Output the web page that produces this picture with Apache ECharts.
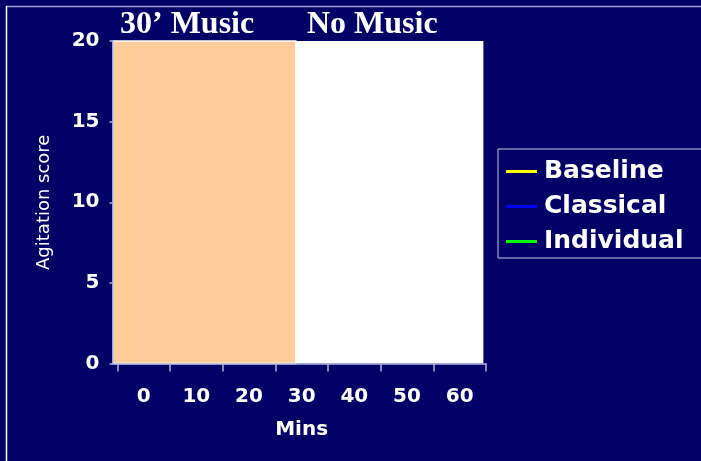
<!DOCTYPE html>
<html>
<head>
<meta charset="utf-8">
<script src="https://cdn.jsdelivr.net/npm/echarts@6/dist/echarts.min.js"></script>
<style>
  html, body { margin: 0; padding: 0; background: #000066; }
  #chart { width: 701px; height: 461px; }
</style>
</head>
<body>
<div id="chart"></div>
<script>
// Time points (minutes) on the x axis
const minutes = ['0', '10', '20', '30', '40', '50', '60'];

// Agitation score series (no observations plotted yet)
const seriesNames = ['Baseline', 'Classical', 'Individual'];
const seriesColors = ['#ffff00', '#0000ff', '#00ff00'];
const baseline = [];
const classical = [];
const individual = [];

// Y axis range
const scoreMin = 0;
const scoreMax = 20;
const scoreStep = 5;

// Session phases, in minutes on the shading axis
const phaseNames = ['30’ Music', 'No Music'];
const phaseFrom = [-5.75, 28.9];
const phaseTo = [28.9, 64.5];
const phaseColors = ['#ffcc99', '#ffffff'];

// Shading axis extent, lined up with the category bands above
const shadeMin = -5.9;
const shadeMax = 65;

const lineColor = '#b4b4dc';
const white = '#ffffff';
const sans = 'DejaVu Sans';

const chart = echarts.init(document.getElementById('chart'));

chart.setOption({
  backgroundColor: '#000066',
  animation: false,
  graphic: [
    { type: 'line', shape: { x1: 6, y1: 6.5, x2: 701, y2: 6.5 }, style: { stroke: '#a0a0cc', lineWidth: 1.5 } },
    { type: 'line', shape: { x1: 6.5, y1: 6, x2: 6.5, y2: 461 }, style: { stroke: white, lineWidth: 1.5 } }
  ],
  title: [
    { text: phaseNames[0], left: 120, top: 9, padding: 0,
      textStyle: { color: white, fontFamily: 'Liberation Serif', fontWeight: 'bold', fontSize: 32 } },
    { text: phaseNames[1], left: 307, top: 9, padding: 0,
      textStyle: { color: white, fontFamily: 'Liberation Serif', fontWeight: 'bold', fontSize: 32 } }
  ],
  legend: {
    data: seriesNames,
    orient: 'vertical',
    left: 498,
    top: 149,
    padding: [10, 20, 4, 8],
    itemGap: 10,
    icon: 'rect',
    itemWidth: 31,
    itemHeight: 3,
    borderColor: '#c8c8e0',
    borderWidth: 1,
    textStyle: { color: white, fontFamily: sans, fontWeight: 'bold', fontSize: 25, lineHeight: 24, padding: [0, 0, 0, 2] }
  },
  grid: [
    { left: 117.3, right: 215, top: 41, bottom: 97.5 },
    { left: 112.5, right: 215, top: 41, bottom: 97.5 }
  ],
  xAxis: [
    {
      type: 'category',
      gridIndex: 0,
      data: minutes,
      z: 10,
      axisLine: { show: false },
      axisTick: { show: true, length: 8, lineStyle: { color: lineColor, width: 1.5 } },
      axisLabel: { color: white, fontFamily: sans, fontWeight: 'bold', fontSize: 20, margin: 23 },
      name: 'Mins',
      nameLocation: 'middle',
      nameGap: 56,
      nameTextStyle: { color: white, fontFamily: sans, fontWeight: 'bold', fontSize: 20 }
    },
    {
      type: 'value',
      gridIndex: 1,
      min: shadeMin,
      max: shadeMax,
      z: 10,
      axisLine: { show: true, lineStyle: { color: lineColor, width: 1.5 } },
      axisTick: { show: false },
      axisLabel: { show: false },
      splitLine: { show: false }
    }
  ],
  yAxis: [
    {
      type: 'value',
      gridIndex: 0,
      min: scoreMin,
      max: scoreMax,
      interval: scoreStep,
      offset: 4.8,
      z: 10,
      axisLine: { show: true, lineStyle: { color: lineColor, width: 1.5 } },
      axisTick: { show: true, length: 3, lineStyle: { color: lineColor, width: 1.5 } },
      axisLabel: { color: white, fontFamily: sans, fontWeight: 'bold', fontSize: 20, margin: 13 },
      splitLine: { show: false },
      name: 'Agitation score',
      nameLocation: 'middle',
      nameGap: 59,
      nameTextStyle: { color: white, fontFamily: sans, fontSize: 18 }
    },
    {
      type: 'value',
      gridIndex: 1,
      min: scoreMin,
      max: scoreMax,
      show: false
    }
  ],
  series: [
    {
      name: 'phases',
      type: 'line',
      xAxisIndex: 1,
      yAxisIndex: 1,
      data: [],
      silent: true,
      markArea: {
        silent: true,
        label: { show: false },
        data: phaseNames.map((p, i) => [
          { name: p, xAxis: phaseFrom[i], yAxis: scoreMin,
            itemStyle: { color: phaseColors[i], borderColor: white, borderWidth: i === 0 ? 1.5 : 0 } },
          { xAxis: phaseTo[i], yAxis: scoreMax }
        ]).reverse()
      }
    },
    { name: seriesNames[0], type: 'line', data: baseline, color: seriesColors[0], lineStyle: { width: 3 }, showSymbol: false },
    { name: seriesNames[1], type: 'line', data: classical, color: seriesColors[1], lineStyle: { width: 3 }, showSymbol: false },
    { name: seriesNames[2], type: 'line', data: individual, color: seriesColors[2], lineStyle: { width: 3 }, showSymbol: false }
  ]
});
</script>
</body>
</html>
